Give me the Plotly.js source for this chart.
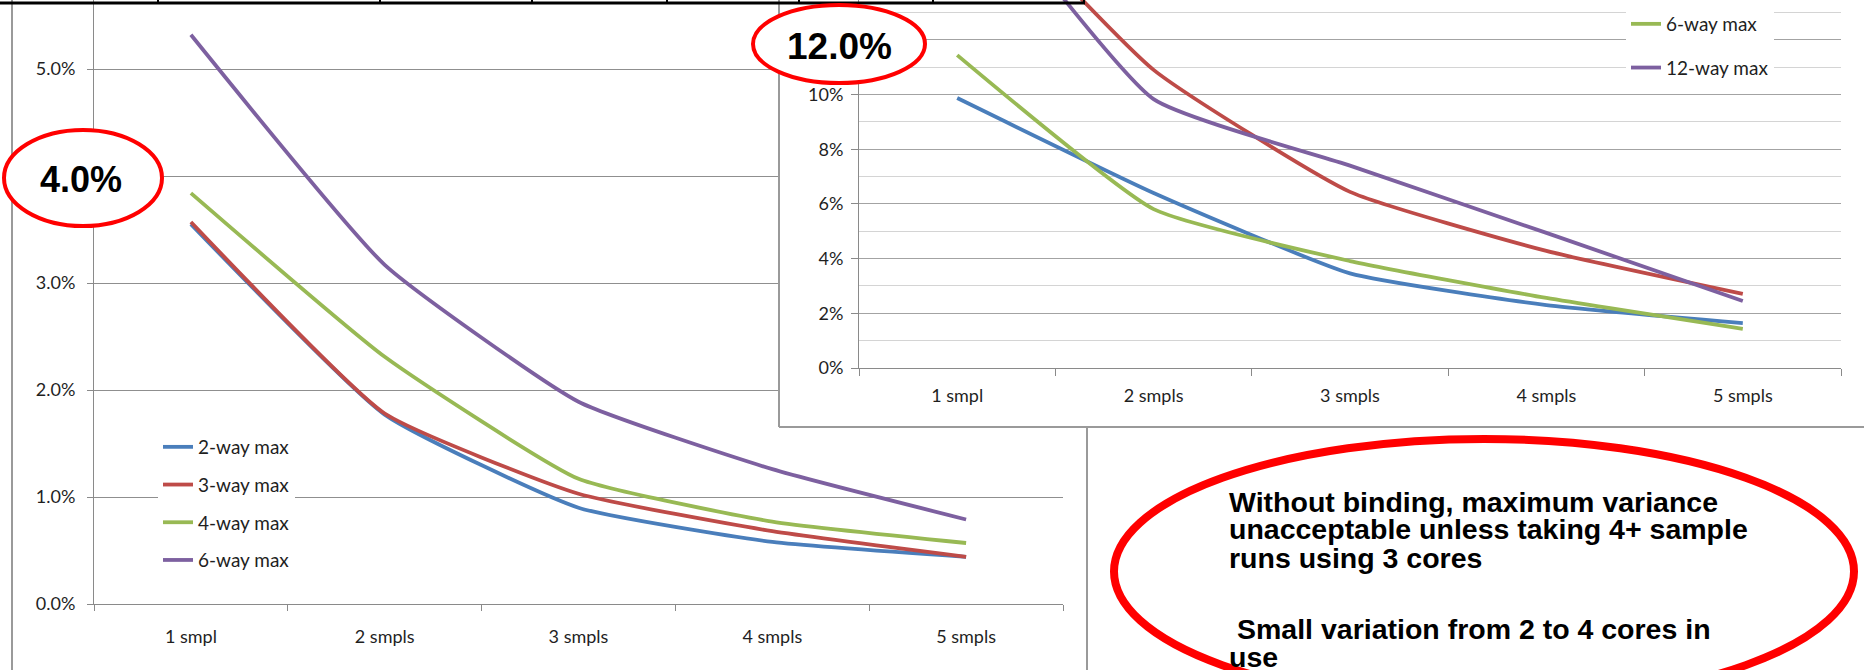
<!DOCTYPE html>
<html><head><meta charset="utf-8">
<script src="https://cdn.plot.ly/plotly-3.0.1.min.js"></script>
<style>
html,body{margin:0;padding:0;background:#fff;overflow:hidden;width:1864px;height:670px}
#main,#inset{position:absolute;left:0;top:0;width:1864px;height:670px}
</style>
</head><body>
<div id="main"></div><div id="inset"></div>
<script>
// ---------- data ----------
const categories = ['1 smpl', '2 smpls', '3 smpls', '4 smpls', '5 smpls'];

// left (main) chart, values in percent
const leftNames = ['2-way max', '3-way max', '4-way max', '6-way max'];
const left2way = [3.55, 1.77, 0.90, 0.58, 0.44];
const left3way = [3.57, 1.78, 1.03, 0.68, 0.44];
const left4way = [3.84, 2.31, 1.17, 0.77, 0.57];
const left6way = [5.32, 3.17, 1.89, 1.26, 0.79];
const leftTickVals = [0, 1, 2, 3, 4, 5];
const leftTickText = ['0.0%', '1.0%', '2.0%', '3.0%', '4.0%', '5.0%'];

// inset chart, values in percent
const insetNames = ['2-way max', '4-way max', '6-way max', '12-way max'];
const inset2way = [9.87, 6.40, 3.46, 2.30, 1.64];
const inset4way = [18.3, 10.9, 6.44, 4.28, 2.71];
const inset6way = [11.44, 5.81, 3.91, 2.56, 1.43];
const inset12way = [18.5, 9.83, 7.40, 4.94, 2.45];
const insetTickVals = [0, 2, 4, 6, 8, 10, 12];
const insetTickText = ['0%', '2%', '4%', '6%', '8%', '10%', '12%'];

// call-out texts
const calloutLeft = '4.0%';
const calloutInset = '12.0%';
const noteLines = [
  'Without binding, maximum variance',
  'unacceptable unless taking 4+ sample',
  'runs using 3 cores',
  'Small variation from 2 to 4 cores in',
  'use'
];

// ---------- styling ----------
const colors = ['#4a7ebb', '#be4b48', '#98b954', '#7d60a0'];
const W = 1864, H = 670;
const tickFont = {family: 'Lato, "Open Sans", sans-serif', size: 18, color: '#1f1f1f'};
const legendFont = {family: 'Lato, "Open Sans", sans-serif', size: 19, color: '#1f1f1f'};
const axisGrey = '#8a8a8a';
const lineShape = {width: 3.8, shape: 'spline', smoothing: 0.45};

// ---------- main (left) chart ----------
const L1 = 94, R1 = 1063, B1 = 604, pxPerPct1 = 107;
const leftSeries = [left2way, left3way, left4way, left6way];
const mainTraces = leftSeries.map((vals, i) => ({
  type: 'scatter', mode: 'lines', x: categories, y: vals, name: leftNames[i],
  legendgroup: leftNames[i],
  line: Object.assign({color: colors[i]}, lineShape)
}));
const m2x = px => (px - L1) / (R1 - L1);
const m2y = py => (B1 - py) / B1;
const mainLayout = {
  width: W, height: H,
  margin: {l: L1, r: W - R1, t: 0, b: H - B1, pad: 0},
  paper_bgcolor: '#fff', plot_bgcolor: '#fff',
  xaxis: {type: 'category', range: [-0.5, 4.5], tickson: 'boundaries', ticks: 'outside', ticklen: 6,
    tickcolor: axisGrey, showline: true, linecolor: axisGrey, linewidth: 1, showgrid: false,
    zeroline: false, tickfont: tickFont, ticklabelstandoff: 16},
  yaxis: {range: [0, B1 / pxPerPct1], tickmode: 'array', tickvals: leftTickVals, ticktext: leftTickText,
    ticks: 'outside', ticklen: 6, tickcolor: axisGrey, showline: true, linecolor: axisGrey,
    showgrid: true, gridcolor: '#8f8f8f', gridwidth: 1, zeroline: false, tickfont: tickFont,
    ticklabelstandoff: 8},
  showlegend: true,
  legend: {x: m2x(158), xanchor: 'left', y: m2y(428), yanchor: 'top', bgcolor: '#fff',
    font: legendFont, traceorder: 'grouped', tracegroupgap: 10, borderwidth: 0},
  shapes: [
    {type: 'line', xref: 'paper', yref: 'paper', x0: m2x(12), x1: m2x(12), y0: m2y(-5), y1: m2y(675),
      line: {color: '#9a9a9a', width: 2}, layer: 'above'},
    {type: 'line', xref: 'paper', yref: 'paper', x0: m2x(1087), x1: m2x(1087), y0: m2y(427), y1: m2y(675),
      line: {color: '#9a9a9a', width: 2}, layer: 'above'}
  ]
};

// ---------- inset chart (overlay) ----------
const L2 = 859, R2 = 1841, B2 = 368, pxPerPct2 = 27.35;
const insetSeries = [inset2way, inset4way, inset6way, inset12way];
const insetTraces = insetSeries.map((vals, i) => ({
  type: 'scatter', mode: 'lines', x: categories, y: vals, name: insetNames[i],
  legendgroup: insetNames[i], showlegend: i >= 2,
  line: Object.assign({color: colors[i]}, lineShape)
}));
const i2x = px => (px - L2) / (R2 - L2);
const i2y = py => (B2 - py) / B2;

const shapes = [
  // inset chart background and frame
  {type: 'rect', xref: 'paper', yref: 'paper', x0: i2x(779), x1: i2x(1880), y0: i2y(-10), y1: i2y(427),
    fillcolor: '#fff', line: {width: 0}, layer: 'below'},
  {type: 'line', xref: 'paper', yref: 'paper', x0: i2x(779), x1: i2x(779), y0: i2y(-10), y1: i2y(427),
    line: {color: '#9a9a9a', width: 2}, layer: 'below'},
  {type: 'line', xref: 'paper', yref: 'paper', x0: i2x(779), x1: i2x(1880), y0: i2y(427), y1: i2y(427),
    line: {color: '#9a9a9a', width: 2}, layer: 'below'},
  // table border at the very top
  {type: 'line', xref: 'paper', yref: 'paper', x0: i2x(-5), x1: i2x(1085), y0: i2y(3), y1: i2y(3),
    line: {color: '#000', width: 3}, layer: 'above'}
];
[158, 380, 532, 667, 799, 933, 1084].forEach(px => shapes.push(
  {type: 'line', xref: 'paper', yref: 'paper', x0: i2x(px), x1: i2x(px), y0: i2y(-3), y1: i2y(4),
    line: {color: '#000', width: 2}, layer: 'above'}));
// red call-out ellipses
shapes.push(
  {type: 'circle', xref: 'paper', yref: 'paper', x0: i2x(4), x1: i2x(162), y0: i2y(226), y1: i2y(130),
    fillcolor: '#fff', line: {color: '#ff0000', width: 4}, layer: 'above'},
  {type: 'circle', xref: 'paper', yref: 'paper', x0: i2x(753), x1: i2x(925), y0: i2y(83), y1: i2y(5),
    fillcolor: '#fff', line: {color: '#ff0000', width: 4}, layer: 'above'},
  {type: 'circle', xref: 'paper', yref: 'paper', x0: i2x(1114), x1: i2x(1854), y0: i2y(704), y1: i2y(439),
    fillcolor: '#fff', line: {color: '#ff0000', width: 8}, layer: 'above'}
);

const boldFont = (s) => ({family: '"Liberation Sans", Arial, sans-serif', size: s, color: '#000', weight: 'bold'});
const annotations = [
  {xref: 'paper', yref: 'paper', x: i2x(81), y: i2y(180), text: calloutLeft, showarrow: false,
    xanchor: 'center', yanchor: 'middle', font: boldFont(36)},
  {xref: 'paper', yref: 'paper', x: i2x(839), y: i2y(46), text: calloutInset, showarrow: false,
    xanchor: 'center', yanchor: 'middle', font: boldFont(37)}
];
const noteX = [1227, 1227, 1227, 1235, 1227];
const noteY = [502, 529, 558, 629, 657];
noteLines.forEach((t, i) => annotations.push(
  {xref: 'paper', yref: 'paper', x: i2x(noteX[i]), y: i2y(noteY[i]), text: t, showarrow: false,
    xanchor: 'left', yanchor: 'middle', align: 'left', font: boldFont(28.5)}));

const insetLayout = {
  width: W, height: H,
  margin: {l: L2, r: W - R2, t: 0, b: H - B2, pad: 0},
  paper_bgcolor: 'rgba(0,0,0,0)', plot_bgcolor: 'rgba(0,0,0,0)',
  xaxis: {type: 'category', range: [-0.5, 4.5], tickson: 'boundaries', ticks: 'outside', ticklen: 7,
    tickcolor: axisGrey, showline: true, linecolor: axisGrey, linewidth: 1, showgrid: false,
    zeroline: false, tickfont: tickFont, ticklabelstandoff: 11},
  yaxis: {range: [0, B2 / pxPerPct2], tickmode: 'array', tickvals: insetTickVals, ticktext: insetTickText,
    ticks: 'outside', ticklen: 7, tickcolor: axisGrey, showline: true, linecolor: axisGrey,
    showgrid: true, gridcolor: '#a3a3a3', gridwidth: 1, zeroline: false, tickfont: tickFont,
    ticklabelstandoff: 4,
    minor: {tickmode: 'linear', tick0: 0, dtick: 1, showgrid: true, gridcolor: '#d4d4d4', gridwidth: 1, ticks: ''}},
  showlegend: true,
  legend: {x: i2x(1626), xanchor: 'left', y: i2y(5), yanchor: 'top', bgcolor: '#fff',
    font: legendFont, traceorder: 'grouped', tracegroupgap: 16, borderwidth: 0},
  shapes: shapes,
  annotations: annotations
};

const cfg = {staticPlot: true, displayModeBar: false};
Plotly.newPlot('main', mainTraces, mainLayout, cfg);
Plotly.newPlot('inset', insetTraces, insetLayout, cfg);
</script>
</body></html>
